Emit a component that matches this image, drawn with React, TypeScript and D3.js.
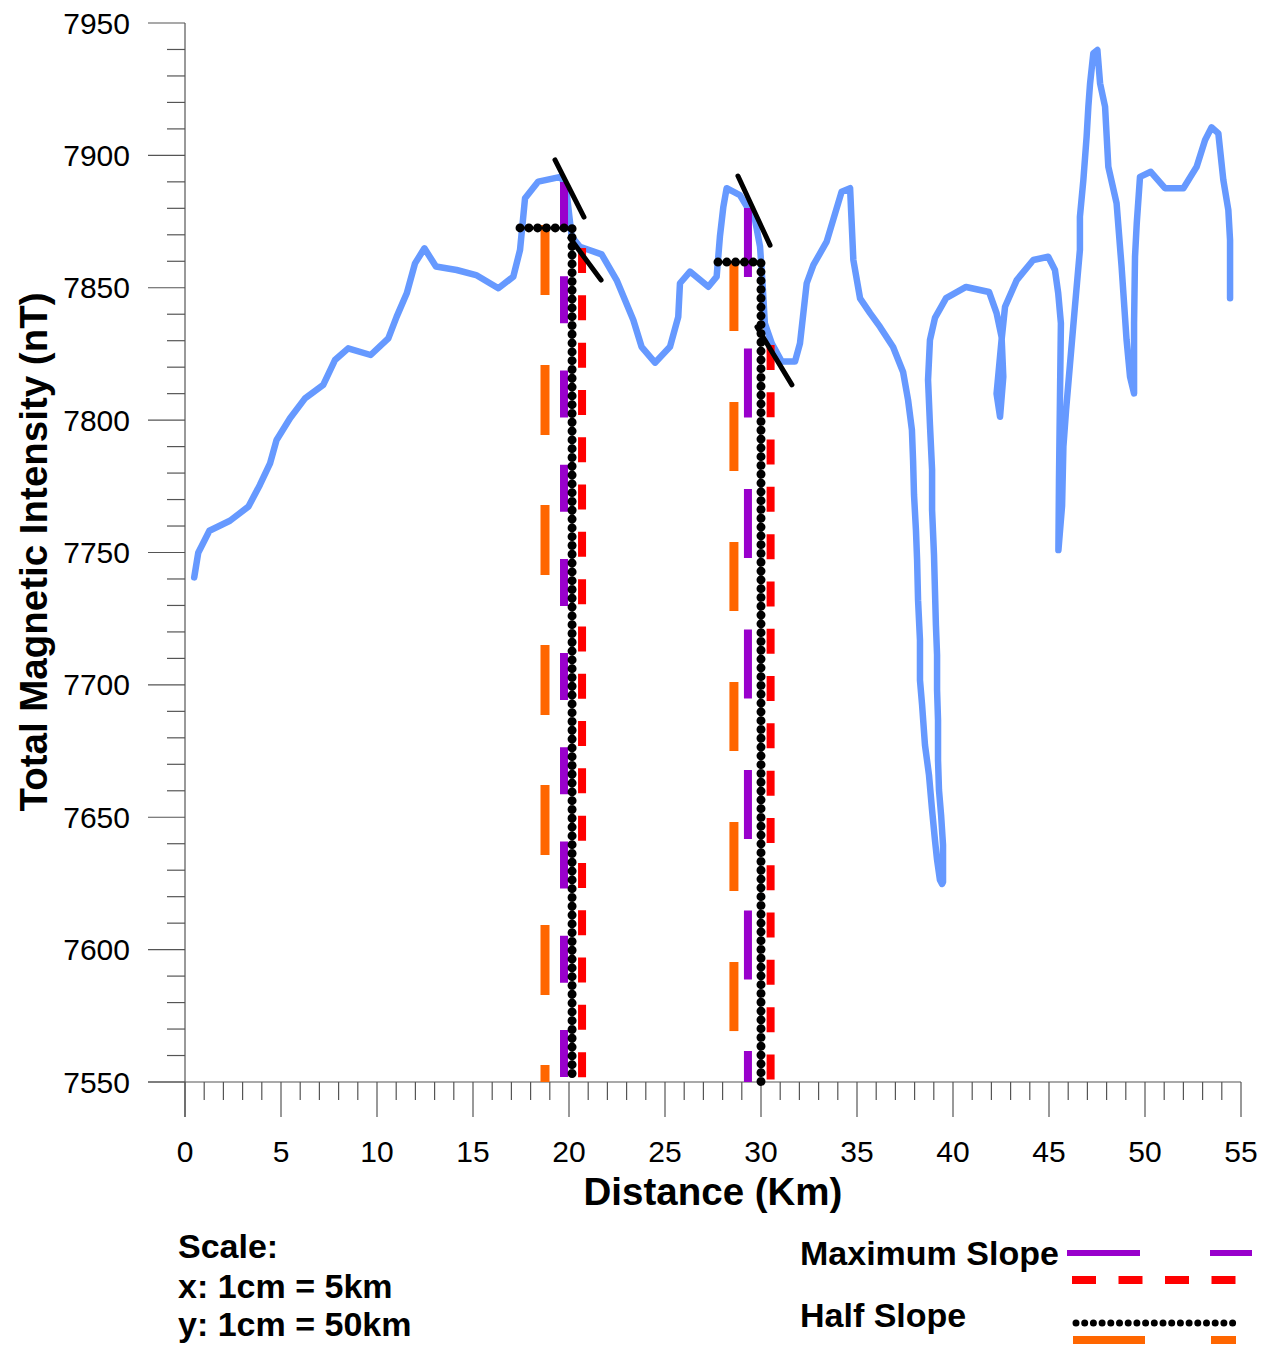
import React from "react";
import * as d3 from "d3";

// ---- Data ----
const distanceKm = [0.48,0.69,1.27,2.34,3.3,3.9,4.43,4.77,5.47,6.25,7.2,7.81,8.5,9.67,10.59,11.02,11.55,11.98,12.47,13.07,14.15,15.16,16.32,17.1,17.45,17.71,18.4,19.62,19.9,20.14,20.57,21.7,22.48,23.35,23.78,24.48,25.26,25.69,25.78,26.3,27.26,27.69,27.86,28.04,28.21,28.9,29.69,29.95,30.09,30.2,30.56,31.08,31.77,32.03,32.38,32.73,33.42,34.2,34.64,34.81,35.16,35.68,36.2,36.88,37.4,37.66,37.86,37.92,37.97,38.07,38.13,38.18,38.28,38.28,38.39,38.54,38.75,38.91,39.06,39.17,39.32,39.43,39.48,39.48,39.38,39.27,39.22,39.22,39.17,39.17,39.11,39.06,39.01,38.91,38.91,38.8,38.7,38.8,39.06,39.64,40.68,41.88,42.27,42.53,42.62,42.45,42.27,42.53,42.71,43.32,44.18,44.96,45.31,45.48,45.62,45.57,45.52,45.49,45.68,45.75,45.89,46.09,46.35,46.61,46.61,46.79,46.96,47.05,47.14,47.31,47.52,47.66,47.92,48.09,48.52,48.78,49.04,49.22,49.43,49.43,49.48,49.57,49.74,50.3,51.04,52.0,52.69,53.13,53.47,53.82,54.08,54.34,54.43,54.43];
const intensityNT = [7740.6,7749.9,7758.2,7762,7767.3,7775.5,7783.7,7792.5,7800.7,7808.2,7813.3,7822.7,7827.1,7824.6,7830.9,7839,7847.9,7859.2,7864.9,7858,7856.7,7854.8,7849.8,7854.2,7864.3,7883.8,7890.1,7892,7884.4,7869.3,7865.5,7862.6,7852.9,7837.8,7827.7,7821.7,7827.7,7839,7851.7,7856.1,7850.4,7854.2,7869.3,7880.6,7887.6,7885,7875.6,7865.5,7850.4,7836.6,7829,7822.1,7822.1,7829,7851.7,7858.6,7867.4,7886.3,7887.6,7860.5,7846,7840.4,7835.2,7827.6,7818.2,7807.6,7796.3,7784.9,7771.7,7758.5,7747.2,7732,7716.9,7701.8,7692.4,7677.3,7665.9,7652.7,7641.4,7633.9,7626.3,7624.8,7625.5,7639.5,7650.8,7660.3,7671.6,7686.7,7698.1,7711.3,7722.6,7735.8,7749.1,7766.1,7781.2,7798.2,7815.2,7830.3,7838.6,7846.1,7850.3,7848.4,7840.4,7831.5,7816.4,7801.3,7810,7830.3,7842.8,7852.9,7860.5,7861.7,7856.7,7847.9,7836.6,7807.6,7777.4,7750.9,7767.6,7790,7803.8,7820.8,7842.8,7864.3,7876.8,7890.7,7907.1,7918.4,7927.2,7938.6,7939.8,7927.2,7918.4,7895.7,7881.9,7858,7830.3,7816.4,7810.1,7836.6,7861.7,7874.3,7891.9,7893.8,7887.6,7887.6,7895.7,7905.8,7910.6,7908.3,7890.7,7879.4,7868,7846];

// Maximum slope (purple) verticals
const maxSlopeX = [19.74, 29.32];
const maxSlopeTop = [7889.9, 7880.1];
// Maximum slope (red) verticals
const maxSlopeRedX = [20.68, 30.5];
const maxSlopeRedTop = [7865.0, 7828.4];
// Half slope (black dotted) lines
const halfSlopeX = [20.16, 30.0];
const halfSlopeLevel = [7872.6, 7859.7];
const halfSlopeStartX = [17.45, 27.76];
// Half slope (orange) verticals
const halfSlopeOrangeX = [18.75, 28.59];
const halfSlopeOrangeTop = [7873.7, 7859.7];
// Tangent lines
const tangentX1 = [19.27, 20.05, 28.8, 29.79];
const tangentY1 = [7898.3, 7868.8, 7892.2, 7835.2];
const tangentX2 = [20.78, 21.67, 30.47, 31.61];
const tangentY2 = [7876.7, 7852.9, 7866.1, 7813.3];

const xTicks = [0, 5, 10, 15, 20, 25, 30, 35, 40, 45, 50, 55];
const yTicks = [7550, 7600, 7650, 7700, 7750, 7800, 7850, 7900, 7950];

const W = 1276;
const H = 1347;
const BLUE = "#6699FF";
const PURPLE = "#9900CC";
const RED = "#FF0000";
const ORANGE = "#FF6600";
const FONT = "'Liberation Sans', Arial, sans-serif";

export default function App() {
  const x = d3.scaleLinear().domain([0, 55]).range([185, 1241]);
  const y = d3.scaleLinear().domain([7550, 7950]).range([1082, 23]);
  const yMin = 7550;

  const pts: [number, number][] = distanceKm.map((d, i) => [x(d), y(intensityNT[i])]);
  const linePath = d3.line()(pts) || "";

  const xMinor = d3.range(0, 56, 1).filter((v) => v % 5 !== 0);
  const yMinor = d3.range(7550, 7951, 10).filter((v) => v % 50 !== 0);

  const axisColor = "#555";

  return (
    <svg
      width={W}
      height={H}
      style={{ position: "absolute", left: 0, top: 0, background: "#fff" }}
      fontFamily={FONT}
    >
      <rect x={0} y={0} width={W} height={H} fill="#fff" />
      {/* axes */}
      <line x1={x(0)} x2={x(0)} y1={y(7950)} y2={1117} stroke={axisColor} strokeWidth={1.2} />
      <line x1={148} x2={x(55)} y1={y(yMin)} y2={y(yMin)} stroke={axisColor} strokeWidth={1.2} />
      {yTicks.map((t) => (
        <g key={"yt" + t}>
          <line x1={148} x2={x(0)} y1={y(t)} y2={y(t)} stroke={axisColor} strokeWidth={1.2} />
          <text x={130} y={y(t) + 10.5} textAnchor="end" fontSize={30} fill="#000">
            {t}
          </text>
        </g>
      ))}
      {yMinor.map((t) => (
        <line key={"ym" + t} x1={167} x2={x(0)} y1={y(t)} y2={y(t)} stroke={axisColor} strokeWidth={1.2} />
      ))}
      {xTicks.map((t) => (
        <g key={"xt" + t}>
          <line x1={x(t)} x2={x(t)} y1={y(yMin)} y2={1117} stroke={axisColor} strokeWidth={1.2} />
          <text x={x(t)} y={1162} textAnchor="middle" fontSize={30} fill="#000">
            {t}
          </text>
        </g>
      ))}
      {xMinor.map((t) => (
        <line key={"xm" + t} x1={x(t)} x2={x(t)} y1={y(yMin)} y2={1100} stroke={axisColor} strokeWidth={1.2} />
      ))}

      {/* data curve */}
      <path d={linePath} fill="none" stroke={BLUE} strokeWidth={6.5} strokeLinejoin="round" strokeLinecap="round" />

      {/* orange half-slope verticals */}
      {halfSlopeOrangeX.map((v, i) => (
        <line
          key={"or" + i}
          x1={x(v)}
          x2={x(v)}
          y1={y(halfSlopeOrangeTop[i])}
          y2={y(yMin)}
          stroke={ORANGE}
          strokeWidth={9}
          strokeDasharray={i === 0 ? "70 70" : "69 71"}
        />
      ))}
      {/* purple maximum slope verticals */}
      {maxSlopeX.map((v, i) => (
        <line
          key={"pu" + i}
          x1={x(v)}
          x2={x(v)}
          y1={y(maxSlopeTop[i])}
          y2={y(yMin)}
          stroke={PURPLE}
          strokeWidth={8}
          strokeDasharray={i === 0 ? "47 47.2" : "69 71.5"}
        />
      ))}
      {/* red maximum slope verticals */}
      {maxSlopeRedX.map((v, i) => (
        <line
          key={"rd" + i}
          x1={x(v)}
          x2={x(v)}
          y1={y(maxSlopeRedTop[i])}
          y2={y(yMin)}
          stroke={RED}
          strokeWidth={8}
          strokeDasharray="25 22.3"
        />
      ))}
      {/* black dotted half slope */}
      {halfSlopeX.map((v, i) => (
        <g key={"hs" + i}>
          <path
            d={`M${x(halfSlopeStartX[i])},${y(halfSlopeLevel[i])}L${x(v)},${y(halfSlopeLevel[i])}L${x(v)},${y(yMin)}`}
            fill="none"
            stroke="#000"
            strokeWidth={9}
            strokeLinecap="round"
            strokeDasharray="0 8.8"
          />
        </g>
      ))}
      {/* tangent lines */}
      {tangentX1.map((v, i) => (
        <line
          key={"tg" + i}
          x1={x(v)}
          y1={y(tangentY1[i])}
          x2={x(tangentX2[i])}
          y2={y(tangentY2[i])}
          stroke="#000"
          strokeWidth={5}
          strokeLinecap="round"
        />
      ))}

      {/* axis titles */}
      <text x={713} y={1205} textAnchor="middle" fontSize={38.5} fontWeight="bold" fill="#000">
        Distance (Km)
      </text>
      <text
        transform={`translate(47,552) rotate(-90)`}
        textAnchor="middle"
        fontSize={38.5}
        fontWeight="bold"
        fill="#000"
      >
        Total Magnetic Intensity (nT)
      </text>

      {/* scale note */}
      <text x={178} y={1258} fontSize={34} fontWeight="bold" fill="#000">Scale:</text>
      <text x={178} y={1298} fontSize={34} fontWeight="bold" fill="#000">x: 1cm = 5km</text>
      <text x={178} y={1336} fontSize={34} fontWeight="bold" fill="#000">y: 1cm = 50km</text>

      {/* legend */}
      <text x={800} y={1265} fontSize={34} fontWeight="bold" fill="#000">Maximum Slope</text>
      <text x={800} y={1327} fontSize={34} fontWeight="bold" fill="#000">Half Slope</text>
      <line x1={1067} x2={1252} y1={1253} y2={1253} stroke={PURPLE} strokeWidth={6} strokeDasharray="73 70" />
      <line x1={1072} x2={1238} y1={1280} y2={1280} stroke={RED} strokeWidth={8} strokeDasharray="24 22.5" />
      <line x1={1076} x2={1233} y1={1323} y2={1323} stroke="#000" strokeWidth={7} strokeLinecap="round" strokeDasharray="0 8.7" />
      <line x1={1073} x2={1236} y1={1340} y2={1340} stroke={ORANGE} strokeWidth={8} strokeDasharray="72 66" />
    </svg>
  );
}
